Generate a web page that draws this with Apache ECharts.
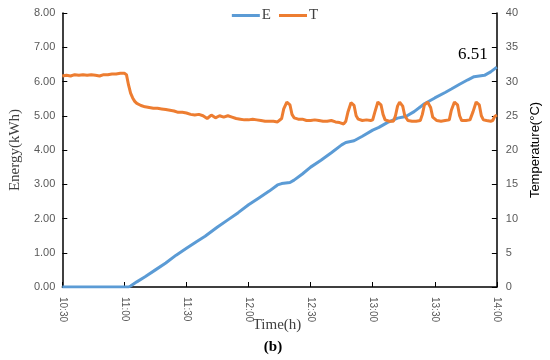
<!DOCTYPE html>
<html><head><meta charset="utf-8">
<script src="https://cdn.jsdelivr.net/npm/echarts@6/dist/echarts.min.js"></script>
<style>html,body{margin:0;padding:0;background:#fff}#c{width:550px;height:360px}</style>
</head><body><div id="c"></div>
<script>
// x in minutes after 10:30
const timeTickLabels = ['10:30','11:00','11:30','12:00','12:30','13:00','13:30','14:00'];
const energyMinutes = [0,32,33,36,40,45,50,55,60,65,69,75,80,85,90,95,100,104,106,110,112,116,120,125,130,135,137,141,145,150,153,157,162,166,170,175,180,185,188,192,196,199,204,207,210];
const energyValues  = [0,0,0.03,0.15,0.30,0.50,0.70,0.93,1.13,1.33,1.48,1.75,1.96,2.17,2.40,2.60,2.80,2.98,3.02,3.05,3.12,3.30,3.50,3.70,3.92,4.15,4.22,4.27,4.40,4.58,4.66,4.80,4.93,4.98,5.12,5.35,5.52,5.68,5.78,5.92,6.05,6.14,6.18,6.28,6.42];
const tempMinutes = [0,2,4,6,8,10,12,14,16,18,20,22,24,26,28,30,31,32,33,34,35,36,38,40,42,44,46,48,50,52,54,56,58,60,62,64,66,68,70,72,74,76,78,80,82,84,86,88,90,92,94,96,98,100,102,104,106,107,108.5,110,111,112,114,116,118,120,122,124,126,128,130,132,134,136,137,138,139.5,141,142,143,145,147,149,150,151,152.5,154,155,156,158,160,161,162,163,164.5,165.5,167,169,171,173,174,175,176.5,178,179,181,183,185,187,188,189.5,191,192,193,195,197,198.5,200,201.5,202.5,203.5,205,207,208,209,210];
const tempValues  = [30.8,30.9,30.8,31.0,30.9,31.0,30.9,31.0,30.9,30.8,31.0,31.0,31.1,31.1,31.2,31.2,31.0,29.5,28.3,27.6,27.1,26.8,26.5,26.3,26.2,26.1,26.1,26.0,25.9,25.8,25.7,25.5,25.5,25.4,25.2,25.1,25.2,25.0,24.6,25.1,24.7,25.0,24.8,25.0,24.8,24.6,24.5,24.4,24.4,24.5,24.4,24.3,24.2,24.2,24.2,24.1,24.6,26.0,27.0,26.6,25.2,24.7,24.5,24.5,24.3,24.3,24.4,24.3,24.2,24.2,24.3,24.1,24.0,23.8,24.2,25.5,26.9,26.5,25.0,24.5,24.3,24.4,24.3,24.4,25.5,27.0,26.6,25.2,24.4,24.2,24.2,25.0,26.4,27.0,26.4,25.0,24.3,24.2,24.2,24.3,25.2,26.6,27.0,26.2,24.8,24.3,24.2,24.3,24.4,25.8,27.0,26.6,25.0,24.3,24.3,24.4,25.6,27.0,26.6,25.0,24.4,24.3,24.2,24.3,24.9,25.1];
const energyTickDecimals = 2;
const finalEnergyLabel = '6.51';

const serif = "'Liberation Serif','Times New Roman',serif";
const sans = "'Liberation Sans','Open Sans',sans-serif";
const eData = energyMinutes.map((m,i)=>[m,energyValues[i]]);
const tData = tempMinutes.map((m,i)=>[m,tempValues[i]]);
const lastE = eData[eData.length-1];

const chart = echarts.init(document.getElementById('c'));
chart.setOption({
  animation:false,
  backgroundColor:'#fff',
  grid:{left:52,right:46,top:13,bottom:73},
  legend:{top:3,left:'center',itemWidth:28,itemHeight:3,itemGap:8,icon:'rect',
    textStyle:{fontFamily:serif,fontSize:15,color:'#404040',padding:[0,0,0,-3]},data:['E','T']},
  xAxis:{type:'value',min:0,max:210,interval:30,
    axisLine:{lineStyle:{color:'#000',width:1.5}},
    axisTick:{inside:true,length:5,lineStyle:{color:'#000'}},
    splitLine:{show:false},
    axisLabel:{rotate:-90,margin:10,color:'#595959',fontFamily:sans,fontSize:10,
      formatter:v=>timeTickLabels[Math.round(v/30)]}},
  yAxis:[
    {type:'value',min:0,max:8,interval:1,
      axisLine:{show:true,lineStyle:{color:'#000',width:1.5}},
      axisTick:{show:true,inside:true,length:5,lineStyle:{color:'#000'}},
      splitLine:{show:false},
      axisLabel:{color:'#595959',fontFamily:sans,fontSize:11,margin:7,formatter:v=>v.toFixed(energyTickDecimals)},
      name:'Energy(kWh)',nameLocation:'middle',nameRotate:90,nameGap:38,
      nameTextStyle:{fontFamily:serif,fontSize:15,color:'#404040'}},
    {type:'value',min:0,max:40,interval:5,position:'right',
      axisLine:{show:true,lineStyle:{color:'#000',width:1.5}},
      axisTick:{show:true,inside:true,length:5,lineStyle:{color:'#000'}},
      splitLine:{show:false},
      axisLabel:{color:'#595959',fontFamily:sans,fontSize:11,margin:9},
      name:'Temperature(°C)',nameLocation:'middle',nameRotate:90,nameGap:29,
      nameTextStyle:{fontFamily:sans,fontSize:13,color:'#000'}}
  ],
  series:[
    {name:'E',type:'line',yAxisIndex:0,data:eData,showSymbol:false,symbol:'none',
      lineStyle:{color:'#5B9BD5',width:3},itemStyle:{color:'#5B9BD5'},z:2,
      markPoint:{symbol:'circle',symbolSize:0,silent:true,
        data:[{coord:lastE,value:finalEnergyLabel}],
        label:{show:true,position:'top',distance:4,offset:[-24,0],formatter:finalEnergyLabel,
          fontFamily:serif,fontSize:17,color:'#000'}}},
    {name:'T',type:'line',yAxisIndex:1,data:tData,showSymbol:false,symbol:'none',
      lineStyle:{color:'#ED7D31',width:3},itemStyle:{color:'#ED7D31'},z:3}
  ],
  graphic:[
    {type:'text',x:277,y:325,style:{text:'Time(h)',fontFamily:serif,fontSize:15,fill:'#404040',align:'center',verticalAlign:'middle'}},
    {type:'text',x:273,y:347,style:{text:'(b)',fontFamily:serif,fontSize:15,fontWeight:'bold',fill:'#000',align:'center',verticalAlign:'middle'}}
  ]
});
</script></body></html>
